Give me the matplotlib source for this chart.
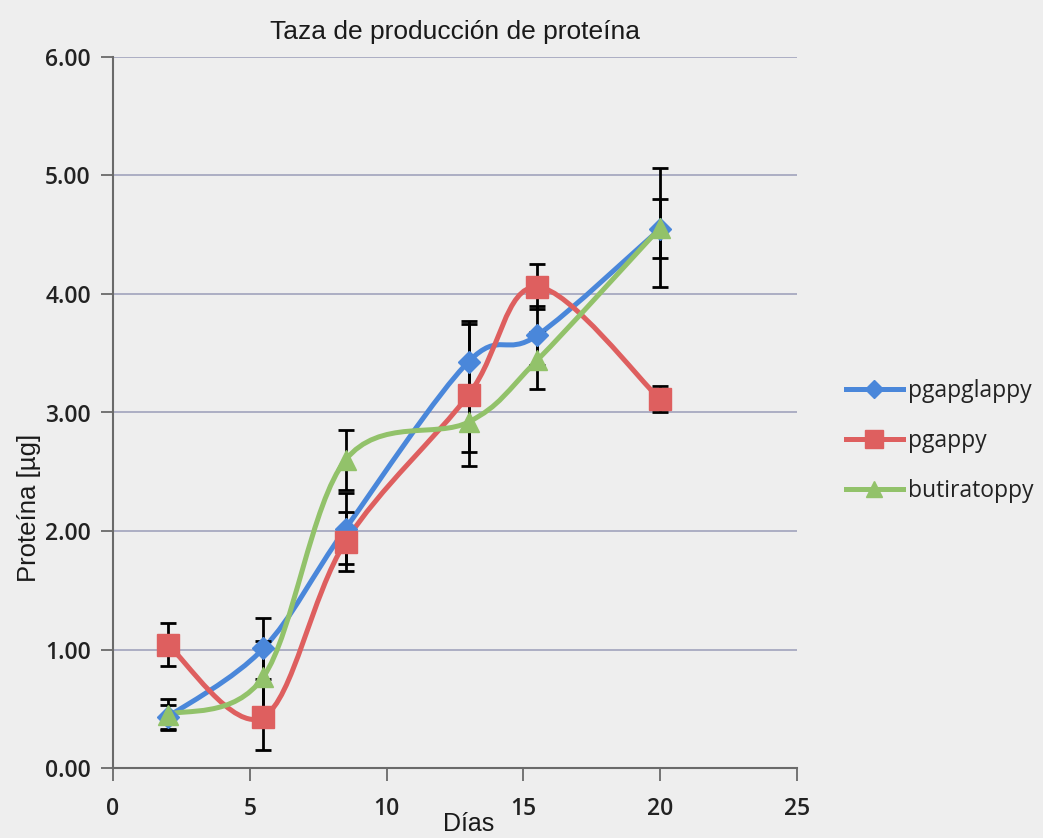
import matplotlib
matplotlib.use("Agg")
import matplotlib.pyplot as plt
from matplotlib.path import Path
from matplotlib.patches import PathPatch
from matplotlib.lines import Line2D
import numpy as np

# ---- data ----
dias = [2, 5.5, 8.5, 13, 15.5, 20]
series_names = ["pgapglappy", "pgappy", "butiratoppy"]
pgapglappy = [0.43, 1.01, 2.02, 3.43, 3.65, 4.55]
pgapglappy_err = [0.10, 0.26, 0.30, 0.34, 0.25, 0.25]
pgappy = [1.04, 0.43, 1.91, 3.15, 4.06, 3.11]
pgappy_err = [0.18, 0.28, 0.25, 0.60, 0.19, 0.11]
butiratoppy = [0.45, 0.77, 2.60, 2.92, 3.44, 4.56]
butiratoppy_err = [0.13, 0.30, 0.25, 0.25, 0.24, 0.50]

x_ticks = [0, 5, 10, 15, 20, 25]
y_ticks = [0, 1, 2, 3, 4, 5, 6]

colors = ["#4A87DA", "#DE5F5F", "#92C26A"]
markers = ["D", "s", "^"]
msizes = [11, 16, 14]

bg = "#eeeeee"
fig = plt.figure(figsize=(10.43, 8.38), dpi=100, facecolor=bg)
ax = fig.add_axes([113/1043, 70/838, 684/1043, 711/838], facecolor=bg)

ax.set_xlim(0, 25)
ax.set_ylim(0, 6)
ax.set_xticks(x_ticks)
ax.set_yticks(y_ticks)
ax.set_yticklabels([f"{v:.2f}" for v in y_ticks])
ax.grid(axis="y", color="#9a9cb8", linewidth=1.1, zorder=0)
ax.set_axisbelow(True)
for s in ["top", "right"]:
    ax.spines[s].set_visible(False)
for s in ["left", "bottom"]:
    ax.spines[s].set_color("#6a6a6a")
    ax.spines[s].set_linewidth(1.5)
ax.tick_params(axis="both", colors="#6a6a6a", width=1.3, length=9, direction="out")
for lab in ax.get_xticklabels() + ax.get_yticklabels():
    lab.set_fontfamily(["Open Sans", "DejaVu Sans"])
    lab.set_fontsize(16.5)
    lab.set_color("#222222")
    lab.set_fontweight("semibold")
ax.tick_params(axis="x", pad=12)
ax.tick_params(axis="y", pad=7)


def smooth_path(xs, ys):
    pts = np.column_stack([xs, ys]).astype(float)
    n = len(pts)
    verts = [pts[0]]
    codes = [Path.MOVETO]
    for i in range(n - 1):
        p0 = pts[i - 1] if i > 0 else pts[i]
        p1 = pts[i]
        p2 = pts[i + 1]
        p3 = pts[i + 2] if i + 2 < n else pts[i + 1]
        c1 = p1 + (p2 - p0) / 6.0
        c2 = p2 - (p3 - p1) / 6.0
        verts += [c1, c2, p2]
        codes += [Path.CURVE4] * 3
    return Path(verts, codes)


data = [(pgapglappy, pgapglappy_err), (pgappy, pgappy_err), (butiratoppy, butiratoppy_err)]
handles = []
for k, (vals, errs) in enumerate(data):
    patch = PathPatch(smooth_path(dias, vals), facecolor="none",
                      edgecolor=colors[k], linewidth=3.6, zorder=3,
                      capstyle="round", joinstyle="round")
    ax.add_patch(patch)
    ax.errorbar(dias, vals, yerr=errs, fmt="none", ecolor="black",
                elinewidth=2, capsize=6, capthick=2, zorder=4)
    ax.plot(dias, vals, linestyle="none", marker=markers[k], markersize=msizes[k],
            color=colors[k], markeredgecolor=colors[k], zorder=5)
    handles.append(Line2D([], [], color=colors[k], linewidth=3.6, marker=markers[k],
                          markersize=msizes[k] * 0.85, markeredgecolor=colors[k]))

ax.set_title("Taza de producción de proteína", fontsize=19,
             fontfamily=["Liberation Sans", "DejaVu Sans"], color="#1a1a1a", pad=13)
ax.set_xlabel("Días", fontsize=18, fontfamily=["Liberation Sans", "DejaVu Sans"],
              color="#1a1a1a")
ax.xaxis.set_label_coords(0.52, -0.062)
ax.set_ylabel("Proteína [µg]", fontsize=18.5,
              fontfamily=["Liberation Sans", "DejaVu Sans"], color="#1a1a1a")
ax.yaxis.set_label_coords(-0.105, 0.366)

leg = fig.legend(handles, series_names, loc="center left",
                 bbox_to_anchor=(825/1043, 1 - 441/838), frameon=False,
                 prop={"family": ["Open Sans", "DejaVu Sans"], "size": 16.5},
                 handlelength=2.5, labelspacing=1.15, handletextpad=0.2)
for t in leg.get_texts():
    t.set_color("#222222")

fig.savefig("out.png", dpi=100, facecolor=bg)
